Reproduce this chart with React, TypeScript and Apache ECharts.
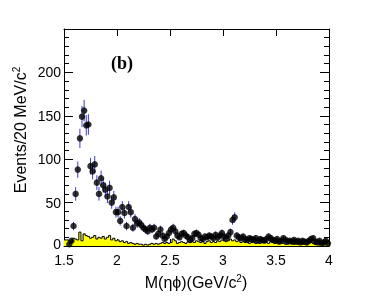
import React, { useEffect, useRef } from "react";
import * as echarts from "echarts";

const binStart = 1.5;
const binWidth = 0.02;

// Data counts per 20 MeV bin (1.50 - 4.00), null = no point drawn
const dataCounts: (number | null)[] = [
  null, null, 2, 6, 23, 60, 88, 124, 149, 156,
  139, 140, 92, 86, 94, 73, 60, 78, 70, 65,
  57, 67, 50, 56, 39, 39, 29, 45, 38, 23,
  45, 39, 21, 31, 26, 27, 24, 21, 19, 17,
  21, 19, 21, 11, 14, 19, 12, 8, 11, 15,
  19, 21, 17, 12, 10, 14, 15, 12, 10, 7,
  9, 14, 15, 13, 9, 8, 11, 10, 12, 11,
  9, 13, 10, 12, 15, 11, 9, 12, 16, 30,
  33, 12, 10, 9, 11, 8, 7, 9, 8, 7,
  9, 6, 8, 7, 6, 8, 11, 9, 7, 6,
  8, 5, 6, 9, 7, 5, 6, 5, 7, 5,
  6, 4, 6, 5, 4, 6, 8, 9, 5, 4,
  6, 3, 4, 6, 3,
];

// Background (yellow histogram) per 20 MeV bin
const bkgCounts: number[] = [
  7, 7, 6, 4, 9, 8, 7, 16, 6, 14,
  12, 11, 9, 10, 12, 8, 10, 9, 11, 8,
  10, 12, 7, 9, 6, 7, 5, 6, 4, 5,
  3, 4, 3, 2, 3, 2, 2, 1, 2, 1,
  2, 3, 2, 3, 2, 3, 4, 3, 4, 3,
  4, 8, 6, 3, 4, 5, 4, 3, 5, 4,
  5, 4, 6, 5, 4, 5, 3, 5, 6, 4,
  5, 4, 6, 5, 7, 6, 5, 6, 8, 6,
  7, 5, 6, 4, 5, 4, 5, 3, 4, 5,
  3, 4, 3, 4, 5, 4, 3, 5, 4, 3,
  4, 3, 4, 3, 2, 3, 4, 3, 2, 3,
  2, 3, 2, 3, 2, 3, 4, 3, 2, 3,
  2, 3, 4, 5, 6,
];

const xTicks = [1.5, 2, 2.5, 3, 3.5, 4];
const yTicks = [0, 50, 100, 150, 200, 250];

export default function App() {
  const ref = useRef<HTMLDivElement>(null);
  useEffect(() => {
    if (!ref.current) return;
    const chart = echarts.init(ref.current, null, { renderer: "svg" });
    const pts: number[][] = [];
    dataCounts.forEach((v, i) => {
      if (v === null) return;
      const c = +(binStart + binWidth * (i + 0.5)).toFixed(3);
      pts.push([c, v, Math.sqrt(v)]);
    });
    const bkg: number[][] = bkgCounts.map((v, i) => [+(binStart + binWidth * i).toFixed(3), v]);
    bkg.push([+(binStart + binWidth * bkgCounts.length).toFixed(3), bkgCounts[bkgCounts.length - 1]]);

    const font = "Liberation Sans";
    const xCommon = {
      type: "value",
      min: xTicks[0],
      max: xTicks[xTicks.length - 1],
      interval: 0.5,
      splitLine: { show: false },
      axisLine: { show: true, onZero: false, lineStyle: { color: "#000", width: 1 } },
      axisTick: { show: true, inside: true, length: 7, lineStyle: { color: "#000" } },
    };
    const yCommon = {
      type: "value",
      min: yTicks[0],
      max: yTicks[yTicks.length - 1],
      interval: 50,
      splitLine: { show: false },
      axisLine: { show: true, onZero: false, lineStyle: { color: "#000", width: 1 } },
      axisTick: { show: true, inside: true, length: 9, lineStyle: { color: "#000" } },
      minorTick: { show: true, splitNumber: 5, length: 5, lineStyle: { color: "#000" } },
    };
    chart.setOption({
      animation: false,
      grid: { left: 64, right: 45, top: 29, bottom: 51 },
      xAxis: [
        {
          ...xCommon,
          position: "bottom",
          axisLabel: { show: true, color: "#000", fontFamily: font, fontSize: 14, lineHeight: 13, margin: 7 },
        },
        { ...xCommon, position: "top", axisLabel: { show: false } },
      ],
      yAxis: [
        {
          ...yCommon,
          position: "left",
          axisLabel: {
            show: true,
            color: "#000",
            fontFamily: font,
            fontSize: 14,
            lineHeight: 12,
            margin: 3,
            formatter: (v: number) => (v === 250 ? "" : v === 0 ? "{z|0}" : String(v)),
            rich: { z: { fontSize: 14, fontFamily: font, color: "#000", lineHeight: 12, padding: [0, 0, 5, 0] } },
          },
        },
        { ...yCommon, position: "right", axisLabel: { show: false } },
      ],
      series: [
        {
          type: "line",
          data: bkg,
          step: "end",
          symbol: "none",
          lineStyle: { color: "#000", width: 1 },
          areaStyle: { color: "#ffff00", opacity: 1, origin: 0 },
          z: 1,
        },
        {
          type: "custom",
          data: pts,
          z: 2,
          renderItem: (params: any, api: any) => {
            const x = api.value(0);
            const y = api.value(1);
            const e = api.value(2);
            const top = api.coord([x, y + e]);
            const bot = api.coord([x, Math.max(0, y - e)]);
            return {
              type: "line",
              shape: { x1: top[0], y1: top[1], x2: bot[0], y2: bot[1] },
              style: { stroke: "#3a3acc", lineWidth: 1 },
            };
          },
        },
        {
          type: "scatter",
          data: pts.map((p) => [p[0], p[1]]),
          symbol: "circle",
          symbolSize: 6.5,
          itemStyle: { color: "#000" },
          z: 3,
        },
      ],
      graphic: [
        {
          type: "text",
          x: 111,
          y: 63,
          style: {
            text: "(b)",
            font: "bold 18px 'Liberation Serif'",
            fill: "#000",
            verticalAlign: "middle",
          },
        },
        {
          type: "text",
          x: 196,
          y: 282,
          style: {
            text: "M(ηϕ)(GeV/c{sup|2})",
            fontFamily: font,
            fontSize: 16,
            fill: "#000",
            align: "center",
            verticalAlign: "middle",
            rich: { sup: { fontSize: 10, fontFamily: font, padding: [0, 0, 8, 0], fill: "#000" } },
          },
        },
        {
          type: "text",
          x: 20,
          y: 130,
          rotation: Math.PI / 2,
          style: {
            text: "Events/20 MeV/c{sup|2}",
            fontFamily: font,
            fontSize: 16,
            fill: "#000",
            align: "center",
            verticalAlign: "middle",
            rich: { sup: { fontSize: 10, fontFamily: font, padding: [0, 0, 8, 0], fill: "#000" } },
          },
        },
      ],
    });
    return () => chart.dispose();
  }, []);
  return (
    <div
      ref={ref}
      style={{ position: "fixed", left: 0, top: 0, width: 374, height: 297 }}
    />
  );
}
